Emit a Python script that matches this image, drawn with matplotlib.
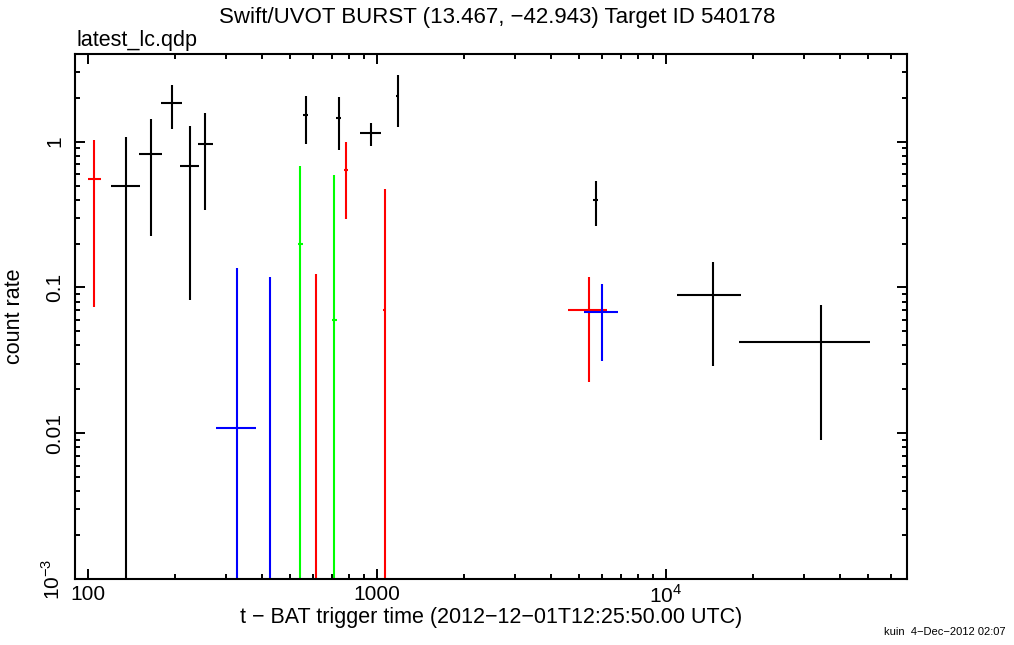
import numpy as np
import matplotlib
matplotlib.use("Agg")
import matplotlib.pyplot as plt
from matplotlib.ticker import FixedLocator, FixedFormatter, LogLocator, NullFormatter

plt.rcParams['font.family'] = ['Liberation Sans', 'DejaVu Sans']
plt.rcParams['mathtext.fontset'] = 'custom'
plt.rcParams['mathtext.rm'] = 'Liberation Sans'

# black series: centre, x range, y range
blk_x = [135, 165, 195, 225, 254, 566, 737, 951, 1182, 5710, 14540, 34300]
blk_xlo = [120, 150, 179, 209, 240, 555, 722, 873, 1168, 5600, 10940, 17930]
blk_xhi = [151, 181, 212, 242, 271, 577, 752, 1031, 1196, 5820, 18220, 50800]
blk_y = [0.50, 0.823, 1.83, 0.681, 0.958, 1.52, 1.45, 1.14, 2.05, 0.40, 0.0888, 0.042]
blk_ylo = [1e-5, 0.227, 1.22, 0.082, 0.34, 0.969, 0.881, 0.939, 1.25, 0.264, 0.0287, 0.00895]
blk_yhi = [1.08, 1.42, 2.44, 1.28, 1.58, 2.05, 2.02, 1.345, 2.86, 0.537, 0.150, 0.0754]

# red series
red_x = [105, 614, 781, 1063, 5415]
red_xlo = [100, 602, 767, 1050, 4580]
red_xhi = [110.6, 626, 795, 1076, 6234]
red_y = [0.55, 5e-4, 0.642, 0.070, 0.0704]
red_ylo = [0.073, 1e-5, 0.296, 1e-5, 0.0225]
red_yhi = [1.03, 0.123, 0.989, 0.475, 0.1187]

# blue series
blu_x = [328, 426, 6003]
blu_xlo = [276.6, 418, 5191]
blu_xhi = [380.5, 434, 6839]
blu_y = [0.0108, 5e-4, 0.0682]
blu_ylo = [1e-5, 1e-5, 0.0311]
blu_yhi = [0.1368, 0.1175, 0.105]

# green series
grn_x = [543, 712]
grn_xlo = [532, 698]
grn_xhi = [554, 726]
grn_y = [0.197, 0.0598]
grn_ylo = [1e-5, 1e-5]
grn_yhi = [0.681, 0.593]

series = [
    (blk_x, blk_xlo, blk_xhi, blk_y, blk_ylo, blk_yhi, 'black'),
    (red_x, red_xlo, red_xhi, red_y, red_ylo, red_yhi, '#ff0000'),
    (blu_x, blu_xlo, blu_xhi, blu_y, blu_ylo, blu_yhi, '#0000ff'),
    (grn_x, grn_xlo, grn_xhi, grn_y, grn_ylo, grn_yhi, '#00ff00'),
]

fig = plt.figure(figsize=(10.14, 6.45), dpi=100)
ax = fig.add_axes([75.3 / 1014, 1 - 579 / 645, 831.7 / 1014, 525 / 645])

for x, xlo, xhi, y, ylo, yhi, c in series:
    x = np.array(x, float)
    y = np.array(y, float)
    xerr = [x - np.array(xlo), np.array(xhi) - x]
    yerr = [y - np.array(ylo), np.array(yhi) - y]
    ax.errorbar(x, y, xerr=xerr, yerr=yerr, fmt='none', ecolor=c,
                elinewidth=1.5, capsize=0)

ax.set_xscale('log')
ax.set_yscale('log')
ax.set_xlim(90.4, 68200)
ax.set_ylim(1e-3, 3.99)

ax.xaxis.set_major_locator(FixedLocator([100, 1000, 1e4]))
ax.xaxis.set_major_formatter(FixedFormatter(['100', '1000', '$10^4$']))
ax.xaxis.set_minor_locator(LogLocator(base=10, subs=np.arange(2, 10)))
ax.xaxis.set_minor_formatter(NullFormatter())
ax.yaxis.set_major_locator(FixedLocator([1e-3, 0.01, 0.1, 1]))
ax.yaxis.set_major_formatter(FixedFormatter(['10$^{\u22123}$', '0.01', '0.1', '1']))
ax.yaxis.set_minor_locator(LogLocator(base=10, subs=np.arange(2, 10)))
ax.yaxis.set_minor_formatter(NullFormatter())

ax.tick_params(which='both', direction='in', top=True, right=True, width=1.4)
ax.tick_params(which='major', length=7, labelsize=15)
ax.tick_params(which='minor', length=3.5)
ax.tick_params(axis='x', pad=4)
ax.tick_params(axis='y', pad=8)
for lab in ax.get_yticklabels():
    lab.set_rotation(90)
    lab.set_va('center')
for s in ax.spines.values():
    s.set_linewidth(1.5)

ax.set_xlabel('t \u2212 BAT trigger time (2012\u221212\u221201T12:25:50.00 UTC)', fontsize=15.5, labelpad=0)
ax.set_ylabel('count rate', fontsize=15.5, labelpad=12)

fig.text(497 / 1014, 1 - 18 / 645, 'Swift/UVOT BURST (13.467, \u221242.943) Target ID 540178',
         ha='center', va='center', fontsize=16)
fig.text(77 / 1014, 1 - 46 / 645, 'latest_lc.qdp', ha='left', va='baseline', fontsize=15.5)
fig.text(1005 / 1014, 1 - 632 / 645, 'kuin  4\u2212Dec\u22122012 02:07', ha='right', va='center', fontsize=8)

fig.savefig('out.png', dpi=100)
